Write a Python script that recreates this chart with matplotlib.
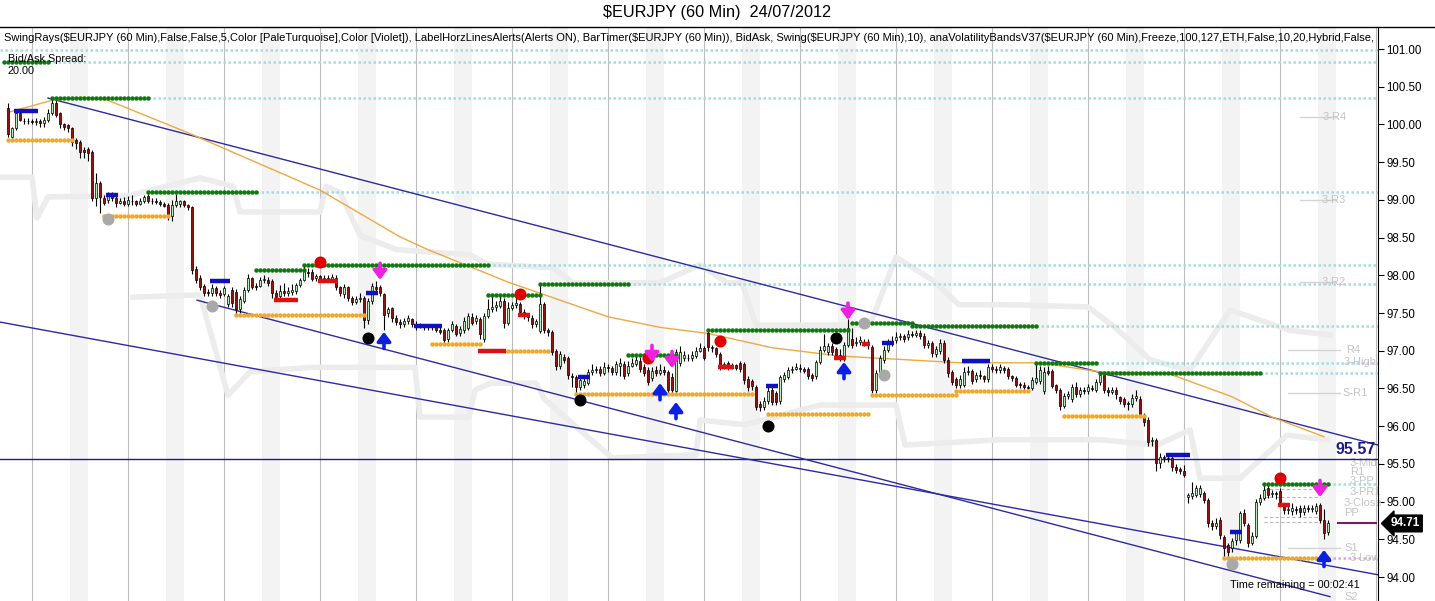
import matplotlib
matplotlib.use("Agg")
import matplotlib.pyplot as plt
import numpy as np
from matplotlib.lines import Line2D

plt.rcParams['font.family'] = ['Liberation Sans', 'DejaVu Sans']

# hourly EURJPY bars
opens = [100.22, 99.84, 99.95, 100.15, 100.05, 100.04, 100.05, 100.03, 100.04, 100.02,
         100.06, 100.15, 100.28, 100.15, 100.00, 99.99, 99.95, 99.79, 99.77, 99.66,
         99.67, 99.63, 99.02, 99.22, 99.02, 99.00, 99.06, 99.03, 98.96, 98.98,
         98.95, 98.99, 98.98, 98.95, 98.98, 99.05, 98.99, 98.98, 98.97, 98.94,
         98.93, 98.78, 98.93, 98.94, 98.98, 98.93, 98.90, 98.09, 97.96, 97.86,
         97.78, 97.76, 97.83, 97.77, 97.75, 97.62, 97.80, 97.78, 97.55, 97.66,
         97.80, 97.96, 97.86, 97.86, 97.94, 97.94, 97.92, 97.77, 97.73, 97.79,
         97.76, 97.78, 97.79, 97.87, 97.94, 98.05, 98.05, 97.96, 97.99, 97.95,
         97.97, 97.94, 97.97, 97.84, 97.75, 97.84, 97.70, 97.65, 97.69, 97.70,
         97.41, 97.66, 97.84, 97.84, 97.75, 97.50, 97.56, 97.44, 97.38, 97.35,
         97.40, 97.42, 97.36, 97.33, 97.34, 97.31, 97.32, 97.31, 97.28, 97.28,
         97.16, 97.28, 97.33, 97.23, 97.27, 97.30, 97.45, 97.40, 97.42, 97.16,
         97.46, 97.55, 97.58, 97.59, 97.66, 97.37, 97.57, 97.60, 97.62, 97.52,
         97.47, 97.44, 97.36, 97.26, 97.62, 97.28, 97.25, 96.99, 96.80, 96.92,
         96.90, 96.67, 96.65, 96.52, 96.54, 96.57, 96.72, 96.75, 96.76, 96.71,
         96.78, 96.77, 96.72, 96.80, 96.83, 96.70, 96.80, 96.83, 96.86, 96.78,
         96.74, 96.64, 96.74, 96.71, 96.74, 96.72, 96.65, 96.46, 96.84, 96.90,
         96.91, 96.90, 96.93, 97.00, 97.03, 97.24, 97.05, 97.03, 96.96, 96.80,
         96.84, 96.79, 96.81, 96.84, 96.82, 96.63, 96.60, 96.52, 96.30, 96.25,
         96.34, 96.48, 96.44, 96.33, 96.62, 96.65, 96.74, 96.76, 96.77, 96.76,
         96.76, 96.68, 96.66, 96.85, 97.01, 96.98, 97.06, 97.02, 96.95, 96.90,
         97.08, 97.16, 97.10, 97.12, 97.12, 97.12, 97.05, 96.48, 96.72, 96.88,
         97.01, 97.10, 97.14, 97.18, 97.19, 97.18, 97.22, 97.21, 97.23, 97.20,
         97.08, 97.10, 96.96, 97.00, 97.10, 96.88, 96.72, 96.62, 96.55, 96.55,
         96.72, 96.73, 96.62, 96.68, 96.66, 96.62, 96.78, 96.76, 96.74, 96.77,
         96.76, 96.66, 96.64, 96.56, 96.55, 96.52, 96.51, 96.59, 96.60, 96.46,
         96.73, 96.73, 96.54, 96.48, 96.27, 96.40, 96.36, 96.52, 96.42, 96.48,
         96.46, 96.50, 96.48, 96.58, 96.68, 96.48, 96.45, 96.48, 96.38, 96.36,
         96.31, 96.30, 96.37, 96.36, 96.12, 96.08, 95.80, 95.82, 95.51, 95.59,
         95.58, 95.58, 95.46, 95.43, 95.40, 95.06, 95.08, 95.09, 95.10, 95.11,
         95.02, 94.72, 94.68, 94.76, 94.53, 94.42, 94.38, 94.49, 94.49, 94.85,
         94.69, 94.45, 94.55, 95.00, 95.05, 95.18, 95.10, 95.12, 95.14, 94.93,
         94.89, 94.87, 94.90, 94.91, 94.86, 94.92, 94.90, 94.88, 94.95, 94.76,
         94.60]
highs = [100.28, 99.97, 100.20, 100.18, 100.09, 100.08, 100.07, 100.08, 100.07, 100.10,
         100.20, 100.36, 100.33, 100.17, 100.02, 100.00, 99.97, 99.82, 99.80, 99.70,
         99.70, 99.66, 99.36, 99.25, 99.06, 99.10, 99.10, 99.08, 99.02, 99.04,
         99.05, 99.07, 99.00, 99.02, 99.07, 99.12, 99.03, 99.02, 99.00, 98.97,
         98.96, 99.00, 99.08, 99.00, 99.00, 98.95, 98.92, 98.12, 98.00, 97.88,
         97.82, 97.88, 97.86, 97.80, 97.86, 97.75, 97.84, 97.82, 97.72, 97.84,
         98.02, 97.98, 97.90, 97.98, 98.00, 97.98, 97.95, 97.80, 97.87, 97.90,
         97.84, 97.88, 97.90, 97.97, 98.12, 98.10, 98.08, 98.02, 98.00, 98.01,
         98.00, 98.02, 98.00, 97.86, 97.88, 97.86, 97.72, 97.72, 97.76, 97.72,
         97.70, 97.90, 97.92, 97.87, 97.77, 97.58, 97.58, 97.47, 97.42, 97.44,
         97.47, 97.44, 97.39, 97.37, 97.36, 97.36, 97.35, 97.33, 97.31, 97.30,
         97.30, 97.40, 97.36, 97.33, 97.45, 97.50, 97.50, 97.48, 97.45, 97.50,
         97.68, 97.72, 97.66, 97.72, 97.70, 97.65, 97.65, 97.73, 97.64, 97.55,
         97.50, 97.47, 97.42, 97.88, 97.65, 97.30, 97.28, 97.02, 97.00, 96.96,
         96.93, 96.70, 96.68, 96.66, 96.64, 96.76, 96.82, 96.80, 96.80, 96.85,
         96.82, 96.80, 96.86, 96.90, 96.86, 96.86, 96.90, 96.95, 96.92, 96.82,
         96.78, 96.78, 96.80, 96.82, 96.80, 96.74, 96.70, 97.02, 97.06, 97.00,
         96.96, 96.99, 97.05, 97.10, 97.06, 97.27, 97.08, 97.05, 96.98, 96.85,
         96.86, 96.84, 96.83, 96.86, 96.85, 96.66, 96.62, 96.55, 96.33, 96.38,
         96.52, 96.55, 96.46, 96.68, 96.72, 96.78, 96.80, 96.84, 96.82, 96.79,
         96.79, 96.70, 96.88, 97.06, 97.22, 97.10, 97.10, 97.05, 97.02, 97.12,
         97.42, 97.30, 97.18, 97.20, 97.16, 97.15, 97.08, 96.75, 96.95, 97.06,
         97.16, 97.20, 97.25, 97.24, 97.22, 97.28, 97.26, 97.28, 97.28, 97.24,
         97.14, 97.13, 97.06, 97.16, 97.14, 96.92, 96.75, 96.65, 96.68, 96.78,
         96.80, 96.76, 96.72, 96.74, 96.68, 96.82, 96.82, 96.80, 96.82, 96.80,
         96.78, 96.68, 96.66, 96.58, 96.58, 96.55, 96.65, 96.82, 96.80, 96.78,
         96.80, 96.76, 96.56, 96.50, 96.44, 96.46, 96.56, 96.58, 96.52, 96.52,
         96.56, 96.54, 96.62, 96.72, 96.72, 96.52, 96.52, 96.52, 96.40, 96.38,
         96.34, 96.42, 96.48, 96.40, 96.18, 96.12, 95.86, 95.84, 95.64, 95.62,
         95.62, 95.60, 95.50, 95.46, 95.48, 95.12, 95.26, 95.22, 95.22, 95.14,
         95.05, 94.76, 94.78, 94.80, 94.56, 94.45, 94.52, 94.62, 94.88, 94.90,
         94.72, 94.60, 95.04, 95.10, 95.22, 95.25, 95.16, 95.14, 95.18, 94.96,
         94.94, 94.98, 94.94, 94.95, 94.96, 94.96, 94.95, 94.98, 94.98, 94.90,
         94.76]
lows = [99.83, 99.82, 99.93, 100.04, 100.00, 100.01, 100.00, 99.99, 99.97, 99.97,
        100.03, 100.12, 100.10, 99.95, 99.93, 99.90, 99.72, 99.68, 99.55, 99.56,
        99.52, 98.98, 98.92, 98.82, 98.93, 98.96, 98.98, 98.90, 98.94, 98.92,
        98.92, 98.93, 98.92, 98.93, 98.96, 98.96, 98.94, 98.94, 98.92, 98.90,
        98.73, 98.72, 98.90, 98.90, 98.90, 98.87, 98.02, 97.90, 97.80, 97.72,
        97.72, 97.73, 97.72, 97.70, 97.72, 97.58, 97.58, 97.47, 97.50, 97.63,
        97.78, 97.82, 97.80, 97.84, 97.90, 97.86, 97.70, 97.66, 97.70, 97.72,
        97.72, 97.74, 97.75, 97.85, 97.92, 97.98, 97.92, 97.93, 97.92, 97.93,
        97.91, 97.91, 97.80, 97.73, 97.70, 97.66, 97.60, 97.62, 97.64, 97.30,
        97.36, 97.62, 97.78, 97.72, 97.28, 97.45, 97.38, 97.34, 97.30, 97.32,
        97.36, 97.32, 97.28, 97.30, 97.28, 97.28, 97.27, 97.25, 97.22, 97.10,
        97.12, 97.25, 97.19, 97.20, 97.24, 97.27, 97.34, 97.36, 97.15, 97.12,
        97.43, 97.52, 97.53, 97.56, 97.30, 97.34, 97.54, 97.56, 97.48, 97.42,
        97.40, 97.30, 97.32, 97.24, 97.24, 97.20, 96.94, 96.74, 96.76, 96.84,
        96.62, 96.52, 96.44, 96.48, 96.50, 96.54, 96.68, 96.70, 96.66, 96.68,
        96.72, 96.68, 96.68, 96.66, 96.62, 96.66, 96.78, 96.80, 96.72, 96.66,
        96.55, 96.60, 96.66, 96.68, 96.68, 96.44, 96.44, 96.44, 96.80, 96.86,
        96.86, 96.86, 96.90, 96.98, 96.88, 97.00, 96.98, 96.92, 96.74, 96.76,
        96.75, 96.76, 96.74, 96.72, 96.56, 96.46, 96.48, 96.22, 96.20, 96.22,
        96.30, 96.28, 96.28, 96.30, 96.58, 96.62, 96.70, 96.74, 96.72, 96.70,
        96.63, 96.60, 96.62, 96.82, 96.98, 96.95, 96.95, 96.90, 96.86, 96.86,
        97.05, 97.04, 97.06, 97.08, 97.06, 97.02, 96.44, 96.44, 96.68, 96.84,
        96.98, 97.06, 97.10, 97.14, 97.12, 97.14, 97.18, 97.18, 97.16, 97.04,
        97.04, 96.92, 96.92, 96.96, 96.84, 96.65, 96.54, 96.50, 96.50, 96.52,
        96.68, 96.56, 96.58, 96.62, 96.58, 96.58, 96.72, 96.70, 96.70, 96.70,
        96.62, 96.60, 96.52, 96.50, 96.48, 96.46, 96.48, 96.56, 96.56, 96.42,
        96.68, 96.50, 96.44, 96.22, 96.24, 96.36, 96.32, 96.38, 96.38, 96.42,
        96.42, 96.46, 96.45, 96.55, 96.44, 96.40, 96.42, 96.36, 96.30, 96.26,
        96.22, 96.26, 96.33, 96.12, 96.00, 95.74, 95.74, 95.40, 95.45, 95.52,
        95.52, 95.40, 95.38, 95.36, 95.32, 94.98, 95.04, 95.06, 95.06, 94.98,
        94.66, 94.62, 94.64, 94.50, 94.25, 94.26, 94.33, 94.42, 94.45, 94.68,
        94.40, 94.42, 94.52, 94.96, 95.02, 95.05, 95.06, 95.04, 94.96, 94.84,
        94.84, 94.82, 94.84, 94.80, 94.82, 94.86, 94.86, 94.84, 94.72, 94.50,
        94.56]
closes = [99.87, 99.95, 100.15, 100.06, 100.04, 100.05, 100.03, 100.04, 100.02, 100.06,
          100.15, 100.28, 100.13, 100.00, 99.97, 99.95, 99.77, 99.75, 99.63, 99.64,
          99.62, 99.02, 99.22, 99.04, 98.96, 99.07, 99.02, 98.96, 98.98, 98.95,
          99.00, 98.98, 98.95, 98.99, 99.04, 98.99, 98.98, 98.97, 98.94, 98.92,
          98.78, 98.93, 98.98, 98.98, 98.93, 98.90, 98.07, 97.94, 97.85, 97.76,
          97.77, 97.83, 97.76, 97.74, 97.83, 97.72, 97.63, 97.55, 97.68, 97.81,
          97.96, 97.85, 97.84, 97.94, 97.95, 97.90, 97.77, 97.71, 97.79, 97.76,
          97.79, 97.80, 97.87, 97.94, 98.08, 98.03, 97.95, 97.99, 97.95, 97.97,
          97.94, 97.98, 97.84, 97.76, 97.84, 97.70, 97.64, 97.69, 97.70, 97.41,
          97.66, 97.86, 97.82, 97.76, 97.48, 97.55, 97.43, 97.38, 97.35, 97.40,
          97.43, 97.36, 97.32, 97.34, 97.31, 97.32, 97.31, 97.28, 97.25, 97.14,
          97.27, 97.35, 97.22, 97.29, 97.40, 97.46, 97.37, 97.44, 97.22, 97.46,
          97.55, 97.58, 97.61, 97.66, 97.37, 97.57, 97.60, 97.63, 97.52, 97.46,
          97.45, 97.35, 97.39, 97.62, 97.28, 97.25, 96.98, 96.80, 96.96, 96.88,
          96.68, 96.65, 96.52, 96.61, 96.60, 96.72, 96.75, 96.76, 96.70, 96.78,
          96.77, 96.72, 96.82, 96.84, 96.66, 96.80, 96.84, 96.88, 96.76, 96.70,
          96.58, 96.73, 96.71, 96.74, 96.72, 96.48, 96.48, 96.98, 96.98, 96.95,
          96.90, 96.95, 97.00, 97.04, 96.91, 97.05, 97.03, 96.96, 96.78, 96.82,
          96.78, 96.81, 96.77, 96.76, 96.61, 96.52, 96.53, 96.26, 96.25, 96.34,
          96.46, 96.32, 96.32, 96.65, 96.68, 96.74, 96.76, 96.78, 96.76, 96.73,
          96.67, 96.64, 96.85, 97.01, 97.06, 97.06, 96.98, 96.94, 96.90, 97.07,
          97.30, 97.08, 97.12, 97.14, 97.10, 97.07, 96.48, 96.70, 96.90, 97.01,
          97.10, 97.13, 97.18, 97.19, 97.16, 97.22, 97.21, 97.23, 97.20, 97.07,
          97.10, 96.97, 97.02, 97.10, 96.88, 96.70, 96.58, 96.55, 96.63, 96.72,
          96.73, 96.60, 96.68, 96.66, 96.62, 96.79, 96.76, 96.74, 96.78, 96.74,
          96.66, 96.64, 96.55, 96.54, 96.52, 96.51, 96.61, 96.64, 96.75, 96.72,
          96.71, 96.53, 96.48, 96.27, 96.40, 96.42, 96.52, 96.42, 96.48, 96.46,
          96.52, 96.49, 96.58, 96.68, 96.48, 96.45, 96.48, 96.42, 96.34, 96.30,
          96.30, 96.37, 96.40, 96.16, 96.06, 95.79, 95.82, 95.51, 95.59, 95.58,
          95.57, 95.46, 95.42, 95.41, 95.35, 95.09, 95.12, 95.18, 95.18, 95.02,
          94.72, 94.68, 94.72, 94.56, 94.38, 94.33, 94.48, 94.58, 94.85, 94.72,
          94.45, 94.55, 95.00, 95.05, 95.15, 95.09, 95.12, 95.10, 95.00, 94.89,
          94.90, 94.91, 94.89, 94.86, 94.92, 94.90, 94.91, 94.94, 94.76, 94.58,
          94.71]

# moving average (bar, price)
ma_bars = [0, 11, 19, 25, 45, 78, 98, 105, 125, 150, 163, 175, 191, 208, 238, 258, 273, 290, 306, 316, 329]
ma_vals = [100.16, 100.32, 100.36, 100.32, 99.89, 99.13, 98.51, 98.34, 97.91, 97.45, 97.31,
           97.23, 97.04, 96.93, 96.84, 96.84, 96.72, 96.70, 96.39, 96.12, 95.86]

# volatility bands (grey)
upper_bars = [-2, 6, 7.25, 10, 29.75, 48, 56.25, 58, 78, 79.5, 83, 88, 97.25, 115.5,
              119.75, 136.25, 141.25, 163, 173, 179.75, 183.5, 187, 215.5, 222, 231, 237.75,
              251, 270, 276.75, 285.5, 295.5, 305.5, 320.5, 330.5]
upper_vals = [99.30, 99.30, 98.76, 99.04, 99.05, 99.29, 99.18, 98.84, 98.84, 99.18,
              99.10, 98.53, 98.34, 98.27, 98.15, 98.10, 97.90, 97.90, 98.14, 97.90, 97.90, 97.34,
              97.34, 98.24, 97.94, 97.61, 97.61, 97.58, 97.31, 96.88, 96.74, 97.54, 97.27, 97.21]
lower_bars = [31.25, 48, 55, 60.5, 76, 101.75, 103, 115.25, 116.75, 120.75, 132, 134.25, 151, 172,
              173, 184.25, 203, 222, 224.25, 248, 273, 287.25, 295.5, 298, 308, 319.75, 329.75]
lower_vals = [97.71, 97.74, 96.41, 96.72, 96.78, 96.78, 96.12, 96.12, 96.48, 96.57, 96.57, 96.35,
              95.58, 95.62, 96.08, 96.02, 96.28, 96.28, 95.75, 95.82, 95.82, 95.75, 95.95, 95.31,
              95.31, 95.88, 95.82]

# swing lines: (first bar, last bar, price)
swing_highs = [(-1, 10, 100.83), (11, 35, 100.35), (35, 62, 99.10), (62, 74, 98.07), (74, 120, 98.14),
               (120, 133, 97.74), (133, 155, 97.88), (155, 167, 96.95), (175, 210, 97.27),
               (211, 226, 97.37), (226, 257, 97.33), (257, 272, 96.84), (273, 313, 96.70),
               (314, 330, 95.23)]
swing_lows = [(0, 16, 99.79), (24, 40, 98.79), (57, 89, 97.47), (106, 118, 97.09), (124, 135, 97.00),
              (142, 186, 96.42), (190, 215, 96.16), (216, 237, 96.41), (237, 255, 96.47),
              (264, 284, 96.13), (304, 330, 94.25)]
rays_high = [(-2, 100.99), (10, 100.83), (35, 100.35), (62, 99.10), (120, 98.14), (155, 97.88),
             (257, 97.33), (272, 96.84), (313, 96.70), (330, 95.23)]
rays_low = [(330, 94.25)]
red_marks = [(67, 72, 97.67), (78, 82, 97.93), (118, 124, 97.00), (128, 130, 97.47), (178, 181, 96.78),
             (207, 209, 96.90), (214, 215, 97.09), (318, 320, 94.95)]
blue_marks = [(2, 7, 100.18), (25, 27, 99.06), (51, 55, 97.92), (90, 92, 97.77), (102, 108, 97.33),
              (143, 145, 96.65), (190, 192, 96.53), (219, 221, 97.10), (239, 245, 96.86),
              (290, 295, 95.62), (306, 308, 94.60)]
gray_dots = [(25, 98.75), (51, 97.59), (214, 97.37), (219, 96.68), (306, 94.17)]
red_dots = [(78, 98.18), (128, 97.75), (160, 96.90), (178, 97.13), (318, 95.31)]
black_dots = [(90, 97.17), (143, 96.35), (190, 96.00), (207, 97.17)]
down_arrows = [(93, 97.94), (161, 96.85), (166, 96.77), (210, 97.41), (328, 95.06)]
up_arrows = [(94, 97.25), (163, 96.57), (167, 96.32), (209, 96.85), (329, 94.36)]

# trend channel lines (bar, price) pairs
channels = [((10, 100.35), (342.5, 95.75)),
            ((47.25, 97.67), (330.5, 93.74)),
            ((-2, 97.38), (342.5, 94.03))]
level_line = 95.57
last_price = 94.71

pivot_labels = [("3-R4", 328.75, 100.10), ("3-R3", 328.5, 99.00), ("3-R2", 328.5, 97.91),
                ("R4", 334.5, 97.01), ("3-High", 334.0, 96.85), ("S-R1", 333.5, 96.44),
                ("3-Mid", 335.5, 95.51), ("R1", 335.5, 95.39), ("3-PP", 335.5, 95.27),
                ("3-PR1", 335.5, 95.13), ("3-Close", 334.0, 94.98), ("PP", 334.0, 94.85),
                ("S1", 334.0, 94.38), ("3-Low", 335.5, 94.25), ("S2", 334.0, 93.74)]
pivot_lines = [(323, 332, 100.10), (323, 332, 99.00), (323, 332, 97.91), (320, 333, 97.01),
               (320, 333, 96.44), (320, 333, 94.38)]
dashed_levels = [95.17, 95.06, 94.80, 94.73]

fig = plt.figure(figsize=(14.35, 6.01), dpi=100)
ax = fig.add_axes([0, 0, 1378 / 1435, 1 - 27 / 601])
xmin, xmax = -2, 342.5
ax.set_xlim(xmin, xmax)
ax.set_ylim(93.682, 101.292)

# session shading and day lines
for d in range(0, 15):
    ax.axvspan(15.5 + 24 * d, 20 + 24 * d, color='#f3f3f3', lw=0, zorder=0)
    ax.axvline(6 + 24 * d, color='#bcbcbc', lw=0.8, zorder=1)

ax.plot(upper_bars, upper_vals, color='#ececec', lw=4, solid_joinstyle='round', zorder=1)
ax.plot(lower_bars, lower_vals, color='#ececec', lw=4, solid_joinstyle='round', zorder=1)

for s, p in rays_high:
    ax.plot([s, xmax], [p, p], color='#a2dde2', lw=1.8, ls=(0, (1, 1)), zorder=2)
for s, p in rays_low:
    ax.plot([s, xmax], [p, p], color='#e79be6', lw=1.8, ls=(0, (1, 1)), zorder=2)
for p in dashed_levels:
    ax.plot([314, 328], [p, p], color='#b8b8b8', lw=0.8, ls=(0, (3, 2)), zorder=2)
for s, e, p in pivot_lines:
    ax.plot([s, e], [p, p], color='#d4d4d4', lw=1, zorder=2)

ax.axhline(level_line, color='#1c1c8a', lw=1, zorder=3)
for (b0, p0), (b1, p1) in channels:
    ax.plot([b0, b1], [p0, p1], color='#2b2ba6', lw=1, zorder=3)
ax.plot(ma_bars, ma_vals, color='#f0a840', lw=1, zorder=3)

for s, e, p in swing_highs:
    xs = np.arange(s, e + 1)
    ax.plot(xs, [p] * len(xs), 'o', ms=3.2, color='#0b7a0b', mec='none', zorder=6)
for s, e, p in swing_lows:
    xs = np.arange(s, e + 1)
    ax.plot(xs, [p] * len(xs), 'o', ms=3.2, color='#f0a82a', mec='none', zorder=6)
for s, e, p in red_marks:
    ax.plot([s - 0.4, e + 0.4], [p, p], color='#e01010', lw=3.2, solid_capstyle='butt', zorder=7)
for s, e, p in blue_marks:
    ax.plot([s - 0.4, e + 0.4], [p, p], color='#1010c0', lw=3.2, solid_capstyle='butt', zorder=7)

# candles
idx = np.arange(len(closes))
o = np.array(opens)
c = np.array(closes)
bottoms = np.minimum(o, c)
heights = np.maximum(np.abs(c - o), 0.008)
fills = np.where(c >= o, '#bfe9bf', '#8e1414')
ax.vlines(idx, lows, highs, color='black', lw=0.8, zorder=4)
ax.bar(idx, heights, bottom=bottoms, width=0.72, color=fills, edgecolor='black', linewidth=0.5, zorder=5)

for b, p in gray_dots:
    ax.scatter(b, p, s=75, color='#a9a9a9', zorder=8, linewidths=0)
for b, p in red_dots:
    ax.scatter(b, p, s=75, color='#e00000', zorder=8, linewidths=0)
for b, p in black_dots:
    ax.scatter(b, p, s=75, color='black', zorder=8, linewidths=0)
arrow_style = '-|>,head_width=0.45,head_length=0.6'
for b, p in down_arrows:
    ax.annotate('', xy=(b, p), xytext=(b, p + 0.22),
                arrowprops=dict(arrowstyle=arrow_style, color='#f020e0', lw=2.6,
                                shrinkA=0, shrinkB=0, mutation_scale=9), zorder=9)
for b, p in up_arrows:
    ax.annotate('', xy=(b, p), xytext=(b, p - 0.22),
                arrowprops=dict(arrowstyle=arrow_style, color='#0b20e0', lw=2.6,
                                shrinkA=0, shrinkB=0, mutation_scale=9), zorder=9)

for name, b, p in pivot_labels:
    ax.text(b, p, name, fontsize=8, color='#c4c4c4', va='center', ha='left', zorder=2)

ax.text(0.9985, level_line + 0.12, f"{level_line:.2f}", transform=ax.get_yaxis_transform(),
        ha='right', va='center', fontsize=11.5, fontweight='bold', color='#1c1c8a', zorder=10)
ax.plot([332.5, 342], [last_price, last_price], color='#7a1a6a', lw=1.5, zorder=6)
ax.annotate(f"{last_price:.2f}", xy=(1, last_price), xycoords=('axes fraction', 'data'),
            xytext=(9, 0), textcoords='offset points', va='center', ha='left',
            fontsize=8.5, fontweight='bold', color='white',
            bbox=dict(boxstyle='larrow,pad=0.2', fc='black', ec='black'), annotation_clip=False)

ax.yaxis.tick_right()
ax.set_yticks(np.arange(94, 101.01, 0.5))
ax.set_yticklabels([f"{v:.2f}" for v in np.arange(94, 101.01, 0.5)], fontsize=8.3)
ax.tick_params(axis='y', length=4, pad=2, colors='black')
ax.set_xticks([])
for side in ['left', 'top', 'bottom']:
    ax.spines[side].set_visible(False)
ax.spines['right'].set_color('black')

fig.add_artist(Line2D([0, 1], [1 - 27 / 601] * 2, transform=fig.transFigure, color='black', lw=1))
fig.text(0.5, 1 - 13 / 601, "$EURJPY (60 Min)  24/07/2012", ha='center', va='center',
         fontsize=11.7, parse_math=False)
header = ("SwingRays($EURJPY (60 Min),False,False,5,Color [PaleTurquoise],Color [Violet]), "
          "LabelHorzLinesAlerts(Alerts ON), BarTimer($EURJPY (60 Min)), BidAsk, "
          "Swing($EURJPY (60 Min),10), anaVolatilityBandsV37($EURJPY (60 Min),Freeze,100,127,ETH,"
          "False,10,20,Hybrid,False,")
fig.text(4 / 1435, 1 - 38 / 601, header, ha='left', va='center', fontsize=8.0, parse_math=False)
fig.text(8 / 1435, 1 - 59 / 601, "Bid/Ask Spread:", ha='left', va='center', fontsize=7.8)
fig.text(8 / 1435, 1 - 71 / 601, "20.00", ha='left', va='center', fontsize=7.8)
fig.text(1230 / 1435, 1 - 585 / 601, "Time remaining = 00:02:41", ha='left', va='center', fontsize=7.8)

fig.savefig("out.png", dpi=100)
